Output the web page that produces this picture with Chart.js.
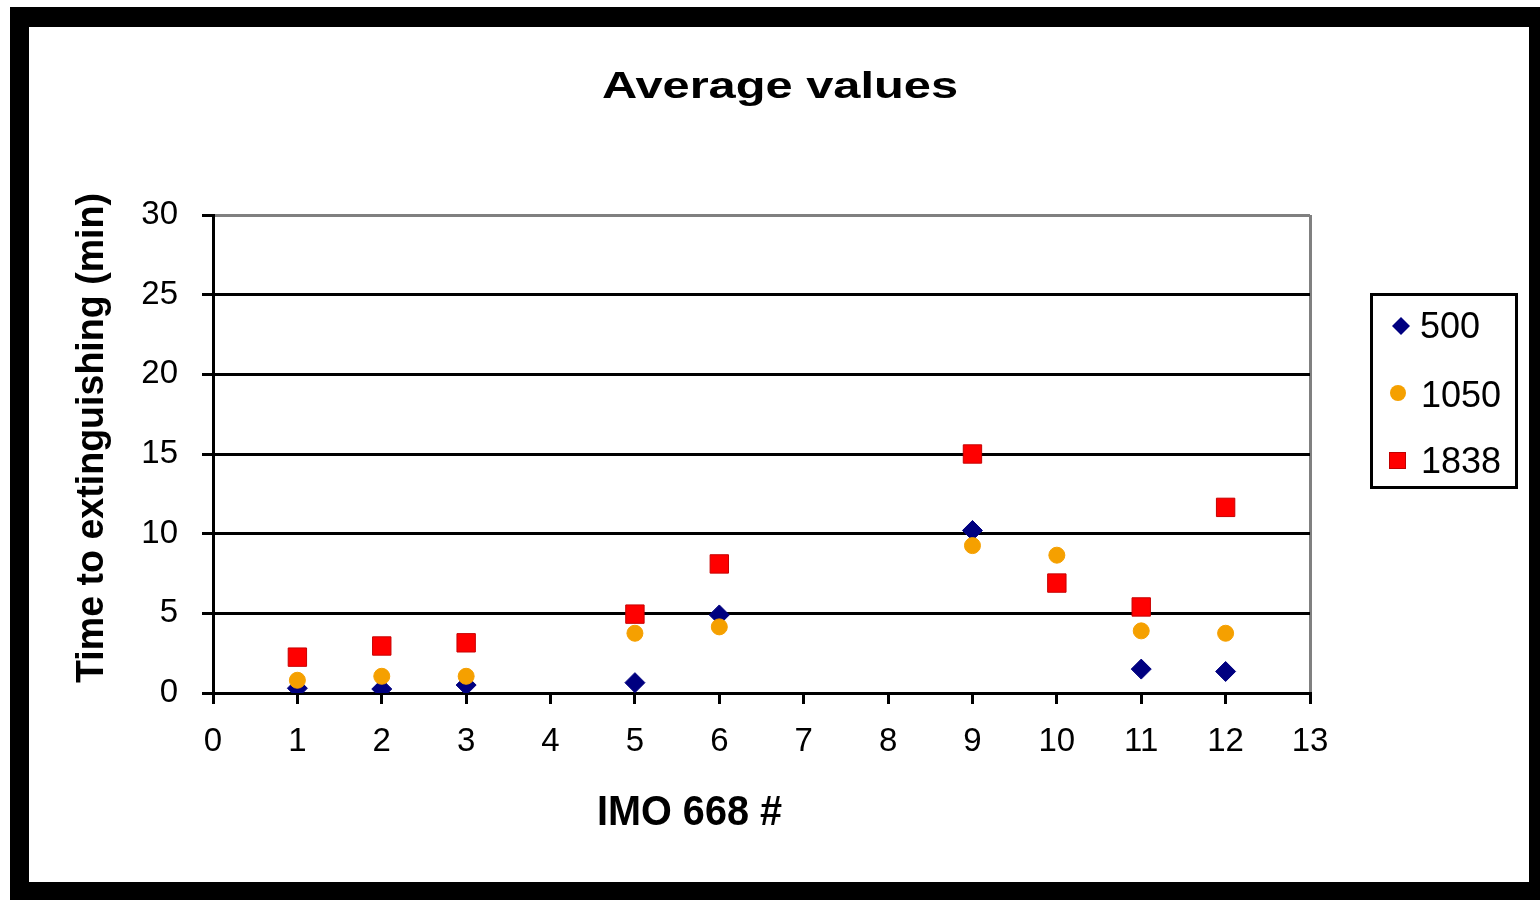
<!DOCTYPE html>
<html>
<head>
<meta charset="utf-8">
<script src="https://cdn.jsdelivr.net/npm/chart.js@4/dist/chart.umd.min.js"></script>
<style>
  html, body { margin: 0; padding: 0; background: #fff; width: 1540px; height: 900px; overflow: hidden; }
  #wrap { position: absolute; left: 0; top: 0; width: 1540px; height: 900px; }
  #c { position: absolute; left: 0; top: 0; }
  #frame {
    position: absolute; left: 10px; top: 7px; width: 1530px; height: 893px;
    box-sizing: border-box; border-style: solid; border-color: #000;
    border-width: 20px 11px 18px 19px; pointer-events: none;
  }
</style>
</head>
<body>
<div id="wrap">
  <canvas id="c" width="1540" height="900"></canvas>
  <div id="frame"></div>
</div>
<script>
// ---- data ----
const chartTitle = "Average values";
const xAxisTitle = "IMO 668 #";
const yAxisTitle = "Time to extinguishing (min)";
const categories = [1, 2, 3, 5, 6, 9, 10, 11, 12];
const seriesNames = ["500", "1050", "1838"];
const s500  = [0.3, 0.25, 0.5, 0.65, 4.9, 10.2, null, 1.5, 1.35];
const s1050 = [0.8, 1.05, 1.05, 3.75, 4.15, 9.25, 8.65, 3.9, 3.75];
const s1838 = [2.25, 2.95, 3.15, 4.95, 8.1, 15.0, 6.9, 5.4, 11.65];
const xMin = 0, xMax = 13, xStep = 1;
const yMin = 0, yMax = 30, yStep = 5;

const colors = { s500: '#000080', s1050: '#F5A000', s1838: '#FF0000' };

function pts(vals) {
  return categories.map((c, i) => ({ x: c, y: vals[i] }));
}

function fitText(ctx, text, font, cx, baseY, w, rot) {
  ctx.save();
  ctx.font = font;
  ctx.fillStyle = '#000';
  ctx.textAlign = 'center';
  ctx.textBaseline = 'alphabetic';
  const m = ctx.measureText(text).width;
  ctx.translate(cx, baseY);
  if (rot) ctx.rotate(rot);
  ctx.scale(w / m, 1);
  ctx.fillText(text, 0, 0);
  ctx.restore();
}

const annot = {
  id: 'annot',
  afterDraw(chart) {
    const ctx = chart.ctx;
    const F = '"Liberation Sans", Arial, sans-serif';
    // title
    fitText(ctx, chartTitle, 'bold 37px ' + F, 780, 98, 356, 0);
    // x axis title
    fitText(ctx, xAxisTitle, 'bold 42px ' + F, 689.5, 825, 185, 0);
    // y axis title (rotated)
    ctx.save();
    ctx.translate(103, 438);
    ctx.rotate(-Math.PI / 2);
    fitText(ctx, yAxisTitle, 'bold 39px ' + F, 0, 0, 490, 0);
    ctx.restore();
    // legend box
    ctx.save();
    ctx.strokeStyle = '#000';
    ctx.lineWidth = 3;
    ctx.strokeRect(1371.5, 294.5, 145, 193);
    ctx.font = '36px ' + F;
    ctx.fillStyle = '#000';
    ctx.textAlign = 'left';
    ctx.textBaseline = 'alphabetic';
    ctx.fillText(seriesNames[0], 1420, 338);
    ctx.fillText(seriesNames[1], 1421, 407);
    ctx.fillText(seriesNames[2], 1421, 473);
    // markers
    ctx.fillStyle = colors.s500;
    ctx.beginPath();
    ctx.moveTo(1401, 317); ctx.lineTo(1410, 326); ctx.lineTo(1401, 335); ctx.lineTo(1392, 326);
    ctx.closePath(); ctx.fill();
    ctx.fillStyle = colors.s1050;
    ctx.beginPath(); ctx.arc(1398, 393, 8, 0, Math.PI * 2); ctx.fill();
    ctx.fillStyle = colors.s1838;
    ctx.fillRect(1389, 452, 17, 17);
    ctx.strokeStyle = '#C00000'; ctx.lineWidth = 1;
    ctx.strokeRect(1389.5, 452.5, 16, 16);
    ctx.restore();
  }
};

const tickFont = { family: '"Liberation Sans", Arial, sans-serif', size: 33 };

new Chart(document.getElementById('c'), {
  type: 'scatter',
  data: {
    datasets: [
      { label: seriesNames[0], data: pts(s500), order: 3, pointStyle: 'rectRot', pointRadius: 10,
        backgroundColor: colors.s500, borderColor: colors.s500, borderWidth: 1, showLine: false },
      { label: seriesNames[1], data: pts(s1050), order: 2, pointStyle: 'circle', pointRadius: 8,
        backgroundColor: colors.s1050, borderColor: colors.s1050, borderWidth: 1, showLine: false },
      { label: seriesNames[2], data: pts(s1838), order: 1, pointStyle: 'rect', pointRadius: 13,
        backgroundColor: colors.s1838, borderColor: '#C80000', borderWidth: 1, showLine: false }
    ]
  },
  options: {
    responsive: false,
    animation: false,
    events: [],
    layout: { padding: { left: 0, right: 230, top: 215, bottom: 0 } },
    plugins: { legend: { display: false }, title: { display: false }, tooltip: { enabled: false } },
    scales: {
      x: {
        type: 'linear', position: 'bottom', min: xMin, max: xMax,
        afterFit(scale) { scale.height = 207; },
        ticks: { stepSize: xStep, color: '#000', font: tickFont, padding: 18, maxRotation: 0, autoSkip: false },
        grid: {
          drawOnChartArea: true, drawTicks: true, tickLength: 11, lineWidth: 3,
          color: (c) => (c.tick && c.tick.value === xMax ? '#808080' : 'rgba(0,0,0,0)'),
          tickColor: '#000'
        },
        border: { display: true, color: '#000', width: 3 }
      },
      y: {
        type: 'linear', position: 'left', min: yMin, max: yMax,
        afterFit(scale) { scale.width = 213; },
        ticks: { stepSize: yStep, color: '#000', font: tickFont, padding: 24 },
        grid: {
          drawOnChartArea: true, drawTicks: true, tickLength: 11, lineWidth: 3,
          color: (c) => (c.tick && c.tick.value === yMax ? '#808080' : '#000'),
          tickColor: '#000'
        },
        border: { display: true, color: '#000', width: 3 }
      }
    }
  },
  plugins: [annot]
});
</script>
</body>
</html>
